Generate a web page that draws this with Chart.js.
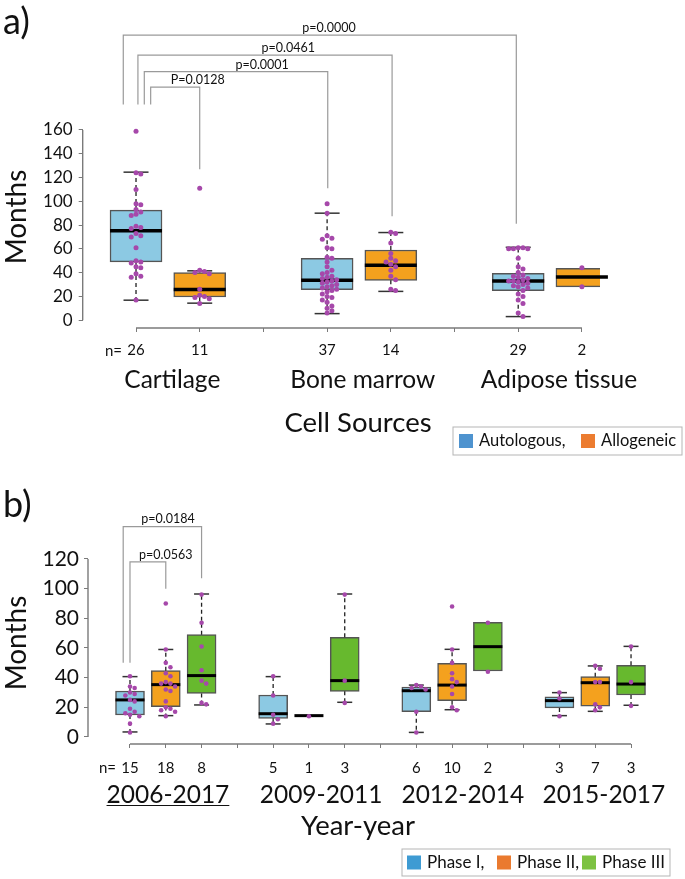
<!DOCTYPE html>
<html>
<head>
<meta charset="utf-8">
<script src="https://cdn.jsdelivr.net/npm/chart.js@4.4.1/dist/chart.umd.min.js"></script>
<style>
  html, body { margin: 0; padding: 0; background: #fff; }
  #wrap-a { position: absolute; left: 0; top: 0; width: 685px; height: 465px; }
  #wrap-b { position: absolute; left: 0; top: 465px; width: 685px; height: 414px; }
</style>
</head>
<body>
<div id="wrap-a"><canvas id="chart-a"></canvas></div>
<div id="wrap-b"><canvas id="chart-b"></canvas></div>
<script>
// ---------- panel a: cell sources ----------
const cellGroups = ['Cartilage', 'Bone marrow', 'Adipose tissue'];
const cellPos = [1, 2, 4, 5, 7, 8];
const cellLow = [16.8, 14.3, 5.5, 24.2, 3, 28];
const cellQ1 = [49, 19.5, 25.6, 33.5, 24.7, 28];
const cellMedian = [75.3, 25.8, 33.5, 46.2, 33, 36.3];
const cellQ3 = [92.6, 40, 52, 59, 39.3, 43.7];
const cellHigh = [124.5, 41.5, 90, 73.7, 61.3, 43.7];
const cartAuto = [159, 124, 123, 110, 98, 97, 93, 91, 89, 88, 79, 78, 77, 73, 71, 70, 61, 50, 49, 48, 45, 44, 39, 37, 36, 17];
const cartAllo = [111, 42, 41, 40, 39, 26, 21, 20, 19, 18, 14];
const boneAuto = [98, 90, 71, 69, 68, 61, 60, 53, 52, 49, 45, 42, 40, 39, 37, 36, 35, 34, 33, 32, 31, 30, 29, 28, 27, 26, 25, 24, 22, 20, 19, 17, 15, 12, 10, 8, 6];
const boneAllo = [74, 73, 65, 56, 52, 50, 49, 47, 45, 42, 37, 34, 26, 25];
const adiAuto = [61, 61, 60, 60, 60, 52, 45, 43, 40, 38, 37, 36, 35, 34, 33, 33, 32, 31, 30, 29, 28, 27, 25, 22, 20, 17, 14, 6, 3];
const adiAllo = [44, 28];
const cellTicksY = [0, 20, 40, 60, 80, 100, 120, 140, 160];

// ---------- panel b: year ranges ----------
const yearGroups = ['2006-2017', '2009-2011', '2012-2014', '2015-2017'];
const phasePos = [1, 2, 3, 5, 6, 7, 9, 10, 11, 13, 14, 15];
const phaseLow = [3.4, 14.4, 21.6, 8.8, 14.4, 23.4, 3.1, 18.4, 44.5, 14.4, 17.3, 21.4];
const phaseQ1 = [14.8, 20.5, 29.4, 12.6, 14.4, 30.8, 17.1, 24.5, 44.5, 19.6, 20.7, 28.3];
const phaseMedian = [25, 35.3, 41.4, 15.7, 14.4, 38, 31.2, 35, 60.9, 24.5, 36.6, 35.7];
const phaseQ3 = [31, 44.7, 69, 28.3, 14.4, 67.2, 33.7, 49.7, 77.3, 27, 40.7, 48.3];
const phaseHigh = [40.7, 59, 96.4, 40.7, 14.4, 96.4, 35, 59.1, 77.3, 29.9, 47.9, 61.1];
const phasePoints = [
  [41, 34, 33, 30, 29, 28, 25, 24, 19, 17, 16, 15, 14, 9, 3],
  [90, 59, 50, 47, 43, 41, 37, 36, 36, 34, 32, 31, 24, 20, 19, 18, 17, 14],
  [96, 77, 61, 45, 38, 36, 23, 22],
  [41, 28, 15, 12, 9],
  [14],
  [96, 38, 23],
  [35, 34, 33, 32, 17, 3],
  [88, 59, 50, 43, 39, 37, 34, 29, 20, 18],
  [77, 44],
  [30, 26, 14],
  [48, 46, 37, 37, 22, 20, 18],
  [61, 37, 21]
];
const phaseTicksY = [0, 20, 40, 60, 80, 100, 120];

const BLUE = '#8CC9E3', ORANGE = '#F4A11E', GREEN = '#67B92E', DOT = '#A648AA';

// simple beeswarm: push dots sideways when they would overlap
function swarm(values, pos, step, thr) {
  const placed = [];
  const out = [];
  values.slice().sort((a, b) => b - a).forEach(v => {
    for (let k = 0; k < 30; k++) {
      const off = (k % 2 ? 1 : -1) * Math.ceil(k / 2) * step;
      const hit = placed.some(p => Math.abs(p.v - v) < thr && Math.abs(p.off - off) < step * 0.9);
      if (!hit) { placed.push({ v, off }); out.push({ x: pos + off, y: v }); break; }
    }
  });
  return out;
}

function label(ctx, str, x, y, size, align, rot) {
  ctx.save();
  ctx.font = size + 'px Lato';
  ctx.fillStyle = '#111';
  ctx.textAlign = align || 'center';
  ctx.textBaseline = 'middle';
  ctx.translate(x, y);
  if (rot) ctx.rotate(rot);
  ctx.fillText(str, 0, 0);
  ctx.restore();
}

function line(ctx, x1, y1, x2, y2) {
  ctx.beginPath();
  ctx.moveTo(x1, y1);
  ctx.lineTo(x2, y2);
  ctx.stroke();
}

function boxPlugin(s) {
  return {
    id: 'box-' + s.id,
    afterDatasetDraw(chart, args) {
      if (args.index !== 0) return;
      const { ctx, scales: { x, y } } = chart;
      s.pos.forEach((p, i) => {
        const cx = x.getPixelForValue(p);
        ctx.save();
        ctx.strokeStyle = '#222';
        ctx.lineWidth = 1.3;
        ctx.setLineDash([4, 3]);
        if (s.high[i] > s.q3[i]) line(ctx, cx, y.getPixelForValue(s.q3[i]), cx, y.getPixelForValue(s.high[i]));
        if (s.low[i] < s.q1[i]) line(ctx, cx, y.getPixelForValue(s.q1[i]), cx, y.getPixelForValue(s.low[i]));
        ctx.setLineDash([]);
        ctx.strokeStyle = '#333';
        ctx.lineWidth = 1.5;
        if (s.high[i] > s.q3[i]) line(ctx, cx - s.cap / 2, y.getPixelForValue(s.high[i]), cx + s.cap / 2, y.getPixelForValue(s.high[i]));
        if (s.low[i] < s.q1[i]) line(ctx, cx - s.cap / 2, y.getPixelForValue(s.low[i]), cx + s.cap / 2, y.getPixelForValue(s.low[i]));
        ctx.strokeStyle = '#000';
        ctx.lineWidth = s.medW;
        const my = y.getPixelForValue(s.median[i]);
        line(ctx, cx - s.box / 2, my, cx + s.box / 2, my);
        ctx.restore();
      });
    },
    afterDraw(chart) {
      const { ctx, chartArea: area, scales: { x, y } } = chart;
      ctx.save();
      // axis lines
      ctx.strokeStyle = '#7a7a7a';
      ctx.lineWidth = 1.4;
      line(ctx, x.getPixelForValue(s.ticksX[0]), area.bottom, x.getPixelForValue(s.ticksX[s.ticksX.length - 1]), area.bottom);
      line(ctx, area.left, y.getPixelForValue(s.ticksY[0]), area.left, y.getPixelForValue(s.ticksY[s.ticksY.length - 1]));
      // significance brackets
      ctx.strokeStyle = '#9a9a9a';
      ctx.lineWidth = 1.2;
      s.brackets.forEach(b => {
        ctx.beginPath();
        ctx.moveTo(x.getPixelForValue(b.x1), y.getPixelForValue(b.f1));
        ctx.lineTo(x.getPixelForValue(b.x1), y.getPixelForValue(b.top));
        ctx.lineTo(x.getPixelForValue(b.x2), y.getPixelForValue(b.top));
        ctx.lineTo(x.getPixelForValue(b.x2), y.getPixelForValue(b.f2));
        ctx.stroke();
        label(ctx, b.text, x.getPixelForValue(b.lx), y.getPixelForValue(b.ly), 12.5);
      });
      ctx.restore();
      // texts
      label(ctx, s.letter, 3, s.letterY, 36, 'left');
      label(ctx, 'Months', 17, s.titleY, 28, 'center', -Math.PI / 2);
      label(ctx, 'n=', x.getPixelForValue(s.ticksX[0]) - 14, s.nY, 15, 'right');
      s.groups.forEach((g, i) => {
        const gx = x.getPixelForValue(s.groupX[i]);
        label(ctx, g, gx, s.groupY, 24.5);
        if (s.underline === i) {
          ctx.save();
          ctx.font = '24.5px Lato';
          const w = ctx.measureText(g).width;
          ctx.strokeStyle = '#111';
          ctx.lineWidth = 1.2;
          line(ctx, gx - w / 2, s.groupY + 10.5, gx + w / 2, s.groupY + 10.5);
          ctx.restore();
        }
      });
      label(ctx, s.axisTitle, 358, s.axisTitleY, 27.5);
      // legend
      ctx.save();
      ctx.strokeStyle = '#b5b5b5';
      ctx.lineWidth = 1;
      ctx.strokeRect(s.legend.x, s.legend.y, s.legend.w, s.legend.h);
      const ly = s.legend.y + s.legend.h / 2;
      s.legend.items.forEach(it => {
        ctx.fillStyle = it.color;
        ctx.fillRect(it.sx, ly - 7, 14, 14);
        label(ctx, it.text, it.sx + 20, ly, s.legend.font, 'left');
      });
      ctx.restore();
    }
  };
}

function makeChart(id, s) {
  const boxes = s.pos.map((p, i) => ({ x: p, y: [s.q1[i], s.q3[i]] }));
  const dots = [];
  s.points.forEach((vals, i) => dots.push(...swarm(vals, s.pos[i], s.step, s.thr)));
  const counts = {};
  s.pos.forEach((p, i) => counts[p] = String(s.points[i].length));
  return new Chart(document.getElementById(id), {
    type: 'bar',
    data: {
      datasets: [
        { type: 'bar', data: boxes, backgroundColor: s.colors, borderColor: '#555', borderWidth: 1.5,
          borderSkipped: false, barThickness: s.box, order: 2 },
        { type: 'scatter', data: dots, pointRadius: s.r, pointBackgroundColor: DOT, pointBorderWidth: 0, order: 1 }
      ]
    },
    options: {
      responsive: true,
      maintainAspectRatio: false,
      animation: false,
      layout: { padding: { top: s.padTop, right: s.padRight, left: 0, bottom: 0 } },
      plugins: { legend: { display: false }, tooltip: { enabled: false } },
      scales: {
        x: {
          type: 'linear', min: s.xMin, max: s.xMax, offset: false,
          afterBuildTicks: a => { a.ticks = s.ticksX.map(v => ({ value: v })); },
          afterFit: a => { a.height = s.xAxisH; },
          grid: { offset: false, drawOnChartArea: false, drawTicks: true, tickLength: 4, color: '#7a7a7a' },
          border: { display: false },
          ticks: { autoSkip: false, maxRotation: 0, padding: s.xPad, color: '#111',
            font: { family: 'Lato', size: 15 }, callback: v => counts[v] || '' }
        },
        y: {
          type: 'linear', min: s.yMin, max: s.yMax,
          afterBuildTicks: a => { a.ticks = s.ticksY.map(v => ({ value: v })); },
          afterFit: a => { a.width = s.yAxisW; },
          grid: { drawOnChartArea: false, drawTicks: true, tickLength: 4, color: '#7a7a7a' },
          border: { display: false },
          ticks: { padding: s.yPad, color: '#111', font: { family: 'Lato', size: s.yFont } }
        }
      }
    },
    plugins: [boxPlugin(s)]
  });
}

makeChart('chart-a', {
  id: 'a', pos: cellPos, low: cellLow, q1: cellQ1, median: cellMedian, q3: cellQ3, high: cellHigh,
  points: [cartAuto, cartAllo, boneAuto, boneAllo, adiAuto, adiAllo],
  colors: [BLUE, ORANGE, BLUE, ORANGE, BLUE, ORANGE],
  ticksX: [1, 2, 3, 4, 5, 6, 7, 8], ticksY: cellTicksY,
  xMin: 0.163, xMax: 8.284, yMin: -6.6, yMax: 255.7,
  padTop: 10, padRight: 85, xAxisH: 137, yAxisW: 82.7, xPad: 9, yPad: 6, yFont: 17,
  box: 52, cap: 25, medW: 3.5, r: 2.5, step: 0.075, thr: 4,
  brackets: [
    { x1: 0.8, x2: 6.97, top: 239.7, f1: 181.4, f2: 81, text: 'p=0.0000', lx: 4.03, ly: 246 },
    { x1: 1.03, x2: 5.02, top: 223, f1: 181.4, f2: 87.4, text: 'p=0.0461', lx: 3.39, ly: 229 },
    { x1: 1.13, x2: 4.01, top: 209, f1: 181.4, f2: 111, text: 'p=0.0001', lx: 2.98, ly: 215 },
    { x1: 1.23, x2: 2.0, top: 196, f1: 181.4, f2: 127, text: 'P=0.0128', lx: 1.97, ly: 202 }
  ],
  letter: 'a)', letterY: 22, titleY: 217, nY: 351,
  groups: cellGroups, groupX: [1.57, 4.56, 7.64], groupY: 380, underline: -1,
  axisTitle: 'Cell Sources', axisTitleY: 423,
  legend: { x: 453, y: 427, w: 229, h: 28, font: 16.5, items: [
    { color: '#4E93CF', text: 'Autologous,', sx: 459 },
    { color: '#EC7C30', text: 'Allogeneic', sx: 581 }
  ] }
});

makeChart('chart-b', {
  id: 'b', pos: phasePos, low: phaseLow, q1: phaseQ1, median: phaseMedian, q3: phaseQ3, high: phaseHigh,
  points: phasePoints,
  colors: [BLUE, ORANGE, GREEN, BLUE, ORANGE, GREEN, BLUE, ORANGE, GREEN, BLUE, ORANGE, GREEN],
  ticksX: [1, 2, 3, 4, 5, 6, 7, 8, 9, 10, 11, 12, 13, 14, 15], ticksY: phaseTicksY,
  xMin: -0.1735, xMax: 15.53, yMin: -4.72, yMax: 156.4,
  padTop: 40, padRight: 35, xAxisH: 135, yAxisW: 88, xPad: 11, yPad: 5, yFont: 21,
  box: 29, cap: 15, medW: 3, r: 2.3, step: 0.13, thr: 3.3,
  brackets: [
    { x1: 0.81, x2: 3.0, top: 141.8, f1: 50, f2: 107, text: 'p=0.0184', lx: 2.06, ly: 147 },
    { x1: 1.0, x2: 2.0, top: 118, f1: 50, f2: 100, text: 'p=0.0563', lx: 2.0, ly: 123 }
  ],
  letter: 'b)', letterY: 40, titleY: 178, nY: 303,
  groups: yearGroups, groupX: [2.06, 6.34, 10.3, 14.24], groupY: 330, underline: 0,
  axisTitle: 'Year-year', axisTitleY: 361,
  legend: { x: 402, y: 384, w: 268, h: 27, font: 17, items: [
    { color: '#3E9BD3', text: 'Phase I,', sx: 407 },
    { color: '#EA7A2F', text: 'Phase II,', sx: 497 },
    { color: '#7DC242', text: 'Phase III', sx: 582 }
  ] }
});
</script>
</body>
</html>
